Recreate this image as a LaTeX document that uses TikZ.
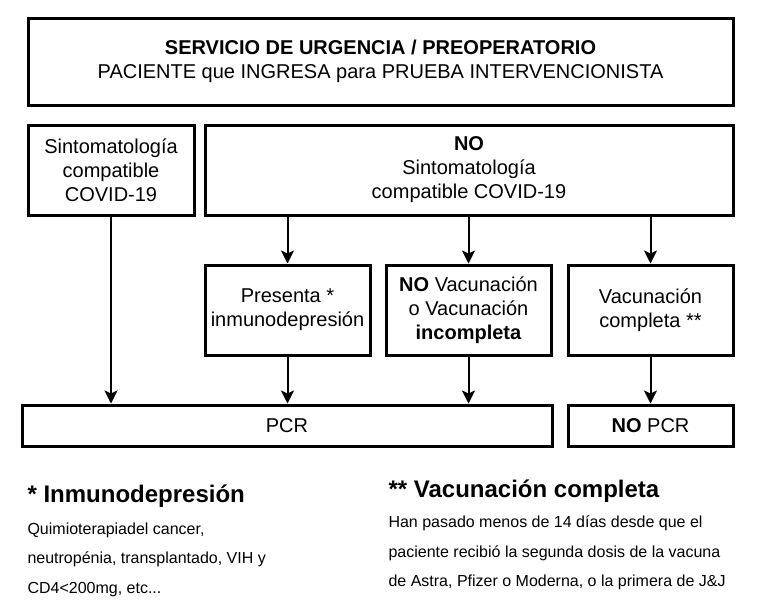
\documentclass[tikz,border=0pt]{standalone}
\usepackage{fontspec}
\setmainfont{Liberation Sans}
\usetikzlibrary{arrows.meta, positioning}

\begin{document}
\begin{tikzpicture}[
        x=1pt, y=-1pt,
        caja/.style={draw=black, line width=3pt, align=center, inner sep=2pt, font=\fontsize{20}{24}\selectfont},
        flecha/.style={draw=black, line width=2pt, -{Stealth[length=13pt, width=13pt, inset=3pt]}},
        titulo/.style={anchor=west, font=\fontsize{24}{28}\selectfont\bfseries},
        nota/.style={anchor=west, align=left, font=\fontsize{16}{29.5}\selectfont}
    ]
        \useasboundingbox (0,0) rectangle (757,606);

        % Cajas del diagrama
        \node[caja, minimum width=705pt, minimum height=87pt] (ingreso) at (380.5, 61.5)
            {\textbf{SERVICIO DE URGENCIA / PREOPERATORIO}\\PACIENTE que INGRESA para PRUEBA INTERVENCIONISTA};
        \node[caja, minimum width=166pt, minimum height=90pt] (sinto) at (111, 170)
            {Sintomatología\\compatible\\COVID-19};
        \node[caja, minimum width=528pt, minimum height=90pt] (nosinto) at (469, 170)
            {\textbf{NO}\\Sintomatología\\compatible COVID-19};
        \node[caja, minimum width=165pt, minimum height=90pt] (inmuno) at (287.5, 310)
            {Presenta *\\inmunodepresión};
        \node[caja, minimum width=165pt, minimum height=90pt] (novacuna) at (468.5, 310)
            {\textbf{NO} Vacunación\\o Vacunación\\\textbf{incompleta}};
        \node[caja, minimum width=165pt, minimum height=90pt] (vacuna) at (650.5, 310)
            {Vacunación\\completa **};
        \node[caja, minimum width=530pt, minimum height=41pt] (pcr) at (287, 425.5) {PCR};
        \node[caja, minimum width=165pt, minimum height=41pt] (nopcr) at (650.5, 425.5) {\textbf{NO} PCR};

        % Flechas
        \draw[flecha] (sinto.south) -- (sinto.south |- pcr.north);
        \draw[flecha] (inmuno.north |- nosinto.south) -- (inmuno.north);
        \draw[flecha] (novacuna.north |- nosinto.south) -- (novacuna.north);
        \draw[flecha] (vacuna.north |- nosinto.south) -- (vacuna.north);
        \draw[flecha] (inmuno.south) -- (inmuno.south |- pcr.north);
        \draw[flecha] (novacuna.south) -- (novacuna.south |- pcr.north);
        \draw[flecha] (vacuna.south) -- (nopcr.north);

        % Notas al pie
        \node[titulo] (tinmuno) at (24, 496) {* Inmunodepresión};
        \node[nota] (ninmuno) at (24, 559.5)
            {Quimioterapiadel cancer,\\neutropénia, transplantado, VIH y\\CD4<200mg, etc...};
        \node[titulo] (tvacuna) at (385, 491) {** Vacunación completa};
        \node[nota] (nvacuna) at (385, 553)
            {Han pasado menos de 14 días desde que el\\paciente recibió la segunda dosis de la vacuna\\de Astra, Pfizer o Moderna, o la primera de J\&J};
    \end{tikzpicture}
\end{document}
